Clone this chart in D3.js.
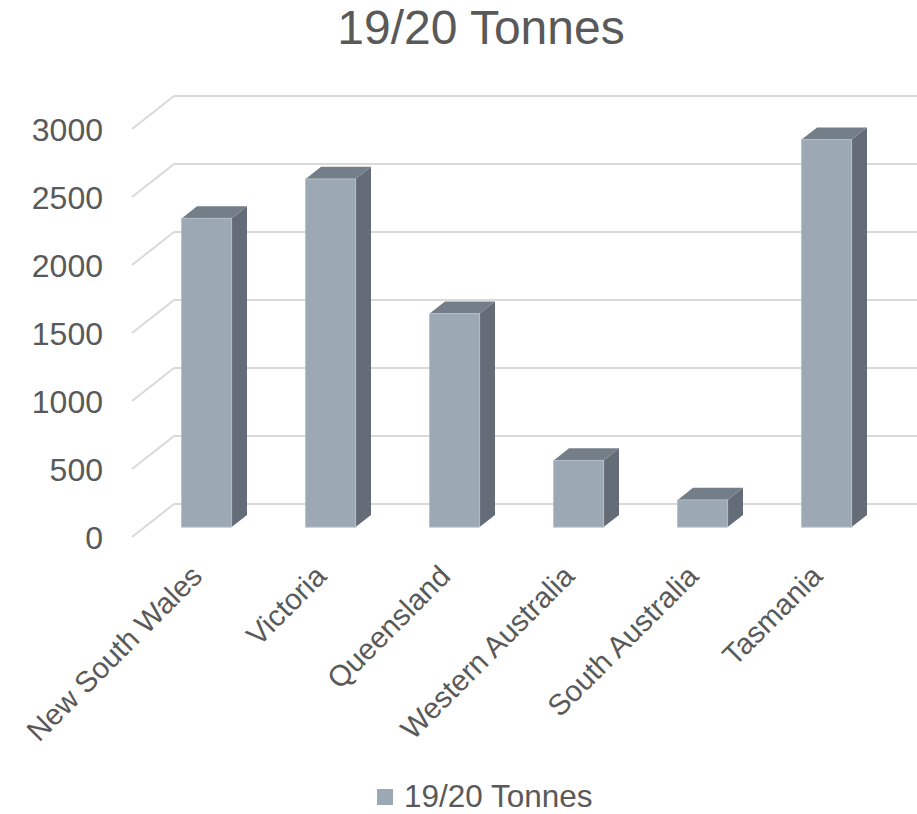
<!DOCTYPE html>
<html lang="en">
<head>
<meta charset="UTF-8" />
<title>19/20 Tonnes</title>
<script src="https://cdn.jsdelivr.net/npm/d3@7"></script>
<style>
  body { margin: 0; background: #fff; }
  text { font-family: "Liberation Sans", Arial, sans-serif; fill: #595959; }
</style>
</head>
<body>
<script>
// data
const states = ["New South Wales", "Victoria", "Queensland", "Western Australia", "South Australia", "Tasmania"];
const tonnes = [2270, 2560, 1570, 490, 200, 2850];
const yTicks = [0, 500, 1000, 1500, 2000, 2500, 3000];
const seriesName = "19/20 Tonnes";

const width = 917, height = 814;
const svg = d3.select("body").append("svg")
  .attr("width", width)
  .attr("height", height);

// front plane scales, depth goes up-right
const x = d3.scaleBand().domain(states).range([132, 876]);
const y = d3.scaleLinear().domain([0, 3000]).range([537, 129]);
const depth = [42, -33];
const tFront = 0.30, tBack = 0.667;

// title
svg.append("text")
  .attr("x", 481).attr("y", 44)
  .attr("text-anchor", "middle")
  .style("font-size", "48px")
  .text(seriesName);

// gridlines: floor diagonal + back wall
const grid = svg.append("g");
yTicks.forEach(t => {
  const yf = y(t);
  const xb = 132 + depth[0], yb = yf + depth[1];
  grid.append("line")
    .attr("x1", 132).attr("y1", yf).attr("x2", xb).attr("y2", yb)
    .attr("stroke", "#d9d9d9").attr("stroke-width", 2);
  grid.append("line")
    .attr("x1", xb).attr("y1", yb).attr("x2", 917).attr("y2", yb)
    .attr("stroke", "#d9d9d9").attr("stroke-width", 2);
});

// y labels
svg.append("g").selectAll("text")
  .data(yTicks)
  .enter()
  .append("text")
  .attr("x", 103)
  .attr("y", d => y(d))
  .attr("dy", "0.36em")
  .attr("text-anchor", "end")
  .style("font-size", "32px")
  .text(d => d);

// bars
const barW = x.bandwidth() * 0.403;
const fdx = depth[0] * tFront, fdy = depth[1] * tFront;
const bdx = depth[0] * (tBack - tFront), bdy = depth[1] * (tBack - tFront);

const bars = svg.append("g").selectAll("g")
  .data(states.map((s, i) => ({ s, v: tonnes[i] })))
  .enter()
  .append("g");

bars.each(function (d) {
  const g = d3.select(this);
  const x0 = x(d.s) + x.bandwidth() / 2 - barW / 2 + fdx;
  const x1 = x0 + barW;
  const yTop = y(d.v) + fdy;
  const yBot = y(0) + fdy;
  // side
  g.append("path")
    .attr("d", `M${x1},${yTop}L${x1 + bdx},${yTop + bdy}L${x1 + bdx},${yBot + bdy}L${x1},${yBot}Z`)
    .attr("fill", "#646c77");
  // top
  g.append("path")
    .attr("d", `M${x0},${yTop}L${x0 + bdx},${yTop + bdy}L${x1 + bdx},${yTop + bdy}L${x1},${yTop}Z`)
    .attr("fill", "#747e89");
  // front
  g.append("rect")
    .attr("x", x0).attr("y", yTop)
    .attr("width", barW).attr("height", yBot - yTop)
    .attr("fill", "#9ca9b5")
    .attr("stroke", "#b3bdc7").attr("stroke-width", 1);
});

// x labels
svg.append("g").selectAll("text")
  .data(states)
  .enter()
  .append("text")
  .attr("transform", d => `translate(${x(d) + x.bandwidth() / 2 + 10},${578}) rotate(-45)`)
  .attr("text-anchor", "end")
  .style("font-size", "29.5px")
  .text(d => d);

// legend
const leg = svg.append("g");
leg.append("rect")
  .attr("x", 377).attr("y", 789)
  .attr("width", 16).attr("height", 16)
  .attr("fill", "#9ca9b5");
leg.append("text")
  .attr("x", 404).attr("y", 807)
  .style("font-size", "31.5px")
  .text(seriesName);
</script>
</body>
</html>
